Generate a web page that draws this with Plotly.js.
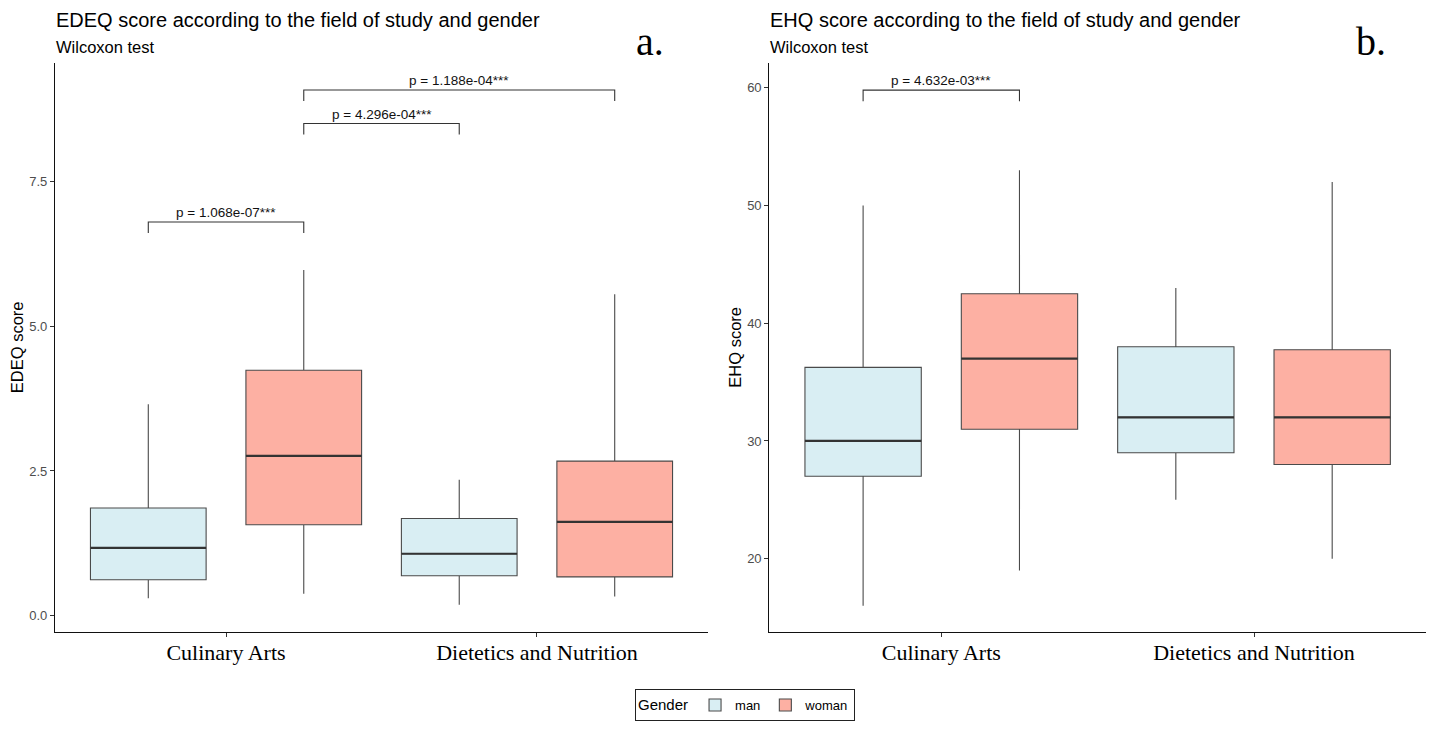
<!DOCTYPE html>
<html>
<head>
<meta charset="utf-8">
<script src="https://cdn.plot.ly/plotly-3.0.1.min.js"></script>
<style>html,body{margin:0;padding:0;background:#fff;}#chart{width:1434px;height:729px;}</style>
</head>
<body>
<div id="chart"></div>
<script>
// ---------- data ----------
const categories = ['Culinary Arts', 'Dietetics and Nutrition'];
const genders = ['man', 'woman'];

// EDEQ (panel a)
const edeqManLower  = [0.30, 0.19];
const edeqManQ1     = [0.62, 0.69];
const edeqManMedian = [1.17, 1.07];
const edeqManQ3     = [1.86, 1.68];
const edeqManUpper  = [3.65, 2.35];

const edeqWomanLower  = [0.38, 0.33];
const edeqWomanQ1     = [1.57, 0.67];
const edeqWomanMedian = [2.76, 1.62];
const edeqWomanQ3     = [4.24, 2.67];
const edeqWomanUpper  = [5.97, 5.55];

// EHQ (panel b)
const ehqManLower  = [16, 25];
const ehqManQ1     = [27, 29];
const ehqManMedian = [30, 32];
const ehqManQ3     = [36.25, 38];
const ehqManUpper  = [50, 43];

const ehqWomanLower  = [19, 20];
const ehqWomanQ1     = [31, 28];
const ehqWomanMedian = [37, 32];
const ehqWomanQ3     = [42.5, 37.75];
const ehqWomanUpper  = [53, 52];

// Wilcoxon comparisons: [category1, gender1, category2, gender2, bracket level, label]
const edeqTests = [
  ['Culinary Arts', 'man', 'Culinary Arts', 'woman', 6.80, 'p = 1.068e-07***'],
  ['Culinary Arts', 'woman', 'Dietetics and Nutrition', 'man', 8.50, 'p = 4.296e-04***'],
  ['Culinary Arts', 'woman', 'Dietetics and Nutrition', 'woman', 9.08, 'p = 1.188e-04***']
];
const ehqTests = [
  ['Culinary Arts', 'man', 'Culinary Arts', 'woman', 59.8, 'p = 4.632e-03***']
];

// ---------- styling ----------
const fillMan = '#D9EEF3';
const fillWoman = '#FDB0A3';
const edgeCol = '#4a4a4a';
const sans = 'Liberation Sans, Arial, sans-serif';
const serif = 'Liberation Serif, Times New Roman, serif';
const DODGE = 0.25, HALFW = 0.186, GROUPGAP = 0.256;

function boxTrace(name, fill, lower, q1, med, q3, upper, xa, ya, showlegend, panel) {
  return {
    type: 'box', name: name, legendgroup: name, showlegend: showlegend,
    offsetgroup: name, alignmentgroup: panel,
    x: categories, lowerfence: lower, q1: q1, median: med, q3: q3, upperfence: upper,
    fillcolor: fill, line: {color: edgeCol, width: 1.1}, whiskerwidth: 0,
    xaxis: xa, yaxis: ya, hoverinfo: 'skip', boxpoints: false
  };
}

const data = [
  boxTrace('man', fillMan, edeqManLower, edeqManQ1, edeqManMedian, edeqManQ3, edeqManUpper, 'x', 'y', true, 'a'),
  boxTrace('woman', fillWoman, edeqWomanLower, edeqWomanQ1, edeqWomanMedian, edeqWomanQ3, edeqWomanUpper, 'x', 'y', true, 'a'),
  boxTrace('man', fillMan, ehqManLower, ehqManQ1, ehqManMedian, ehqManQ3, ehqManUpper, 'x2', 'y2', false, 'b'),
  boxTrace('woman', fillWoman, ehqWomanLower, ehqWomanQ1, ehqWomanMedian, ehqWomanQ3, ehqWomanUpper, 'x2', 'y2', false, 'b')
];

function pos(cat, g) {
  return categories.indexOf(cat) + (g === 'man' ? -DODGE : DODGE);
}

const shapes = [];
const annotations = [];

// thicker median bars (ggplot style)
function medians(meds, g, xr, yr) {
  meds.forEach((m, i) => {
    const c = pos(categories[i], g);
    shapes.push({type: 'line', xref: xr, yref: yr, x0: c - HALFW, x1: c + HALFW, y0: m, y1: m,
      line: {color: '#333333', width: 2.2}});
  });
}
medians(edeqManMedian, 'man', 'x', 'y');
medians(edeqWomanMedian, 'woman', 'x', 'y');
medians(ehqManMedian, 'man', 'x2', 'y2');
medians(ehqWomanMedian, 'woman', 'x2', 'y2');

function brackets(tests, xr, yr, tipFrac) {
  tests.forEach(t => {
    const xa = pos(t[0], t[1]), xb = pos(t[2], t[3]);
    const y = t[4], tip = y - tipFrac;
    shapes.push({type: 'path', xref: xr, yref: yr,
      path: `M ${xa},${tip} L ${xa},${y} L ${xb},${y} L ${xb},${tip}`,
      line: {color: '#333333', width: 1.1}});
    annotations.push({xref: xr, yref: yr, x: (xa + xb) / 2, y: y, text: t[5], showarrow: false,
      yanchor: 'bottom', yshift: 0, font: {family: sans, size: 13.5, color: '#111'}});
  });
}
brackets(edeqTests, 'x', 'y', 0.19);
brackets(ehqTests, 'x2', 'y2', 0.95);

// panel titles
const H = 729, W = 1434;
function ptitle(x, text, sub, letter, lx) {
  annotations.push({xref: 'paper', yref: 'paper', x: x, y: 1 - 20 / H, xanchor: 'left', yanchor: 'middle',
    text: text, showarrow: false, font: {family: sans, size: 20, color: '#000'}});
  annotations.push({xref: 'paper', yref: 'paper', x: x, y: 1 - 47 / H, xanchor: 'left', yanchor: 'middle',
    text: sub, showarrow: false, font: {family: sans, size: 16.5, color: '#000'}});
  annotations.push({xref: 'paper', yref: 'paper', x: lx, y: 1 - 42 / H, xanchor: 'center', yanchor: 'middle',
    text: letter, showarrow: false, font: {family: serif, size: 40, color: '#000'}});
}
ptitle(54 / W, 'EDEQ score according to the field of study and gender', 'Wilcoxon test', 'a.', 650 / W);
ptitle(768 / W, 'EHQ score according to the field of study and gender', 'Wilcoxon test', 'b.', 1371 / W);

const xCommon = {
  type: 'category', range: [-0.55, 1.55], showline: true, linecolor: '#111', linewidth: 1.1,
  ticks: 'outside', ticklen: 4, tickcolor: '#333', showgrid: false, zeroline: false,
  ticklabelstandoff: -3,
  tickfont: {family: serif, size: 22, color: '#000'}, fixedrange: true
};
const yCommon = {
  showline: true, linecolor: '#111', linewidth: 1.1, ticks: 'outside', ticklen: 4, tickcolor: '#333',
  showgrid: false, zeroline: false, tickfont: {family: sans, size: 13, color: '#4D4D4D'}, fixedrange: true
};

const yDom = [(H - 631.7) / H, (H - 63) / H];

const layout = {
  width: W, height: H, margin: {l: 0, r: 0, t: 0, b: 0},
  paper_bgcolor: '#fff', plot_bgcolor: '#fff',
  boxmode: 'group', boxgap: 0, boxgroupgap: GROUPGAP,
  xaxis: Object.assign({}, xCommon, {domain: [55 / W, 708 / W], anchor: 'y'}),
  yaxis: Object.assign({}, yCommon, {domain: yDom, anchor: 'x', range: [-0.276, 9.545], tickvals: [0, 2.5, 5, 7.5], ticktext: ['0.0', '2.5', '5.0', '7.5'],
    title: {text: 'EDEQ score', font: {family: sans, size: 16.5, color: '#000'}, standoff: 1}}),
  xaxis2: Object.assign({}, xCommon, {domain: [769.3 / W, 1426 / W], anchor: 'y2'}),
  yaxis2: Object.assign({}, yCommon, {domain: yDom, anchor: 'x2', range: [13.8, 62.1], tickvals: [20, 30, 40, 50, 60],
    title: {text: 'EHQ score', font: {family: sans, size: 16.5, color: '#000'}, standoff: 1}}),
  shapes: shapes,
  annotations: annotations,
  showlegend: true,
  legend: {orientation: 'h', x: 745 / W, xanchor: 'center', y: (H - 689) / H, yanchor: 'top',
    bordercolor: '#222', borderwidth: 1, bgcolor: '#fff',
    title: {text: 'Gender', side: 'left', font: {family: sans, size: 15, color: '#000'}},
    font: {family: sans, size: 13, color: '#000'}, itemwidth: 30}
};

Plotly.newPlot('chart', data, layout, {displayModeBar: false, staticPlot: true});
</script>
</body>
</html>
